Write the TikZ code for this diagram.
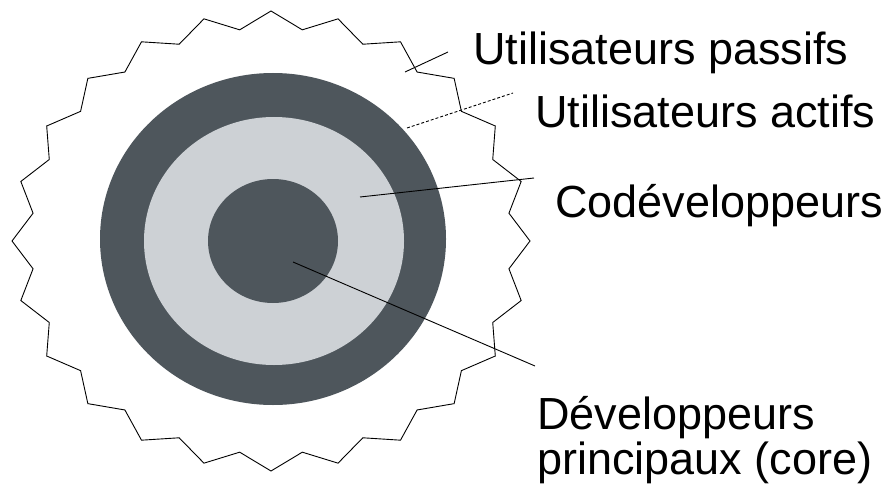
\documentclass[tikz,border=0pt]{standalone}
\usepackage{fontspec}
\setmainfont{Liberation Sans}
\definecolor{ringdark}{RGB}{78,86,92}
\definecolor{ringlight}{RGB}{205,209,213}
\tikzset{
  starline/.style={draw=black, line width=0.9pt, line join=miter, fill=white},
  leader/.style={draw=black, line width=0.9pt},
  leaderdash/.style={draw=black, line width=0.9pt, dash pattern=on 3pt off 2pt},
  lbl/.style={anchor=base west, inner sep=0pt, font=\fontsize{45}{50}\selectfont, text=black}
}
\begin{document}
\begin{tikzpicture}[x=1pt, y=-1pt]
\clip (0,0) rectangle (888,484);
\fill[white] (0,0) rectangle (888,484);
% jagged outer star
\begin{scope}[shift={(271,241)}]
\draw[starline] (0:259 and 230)
  \foreach \k [evaluate=\k as \rx using {mod(\k,2)==1 ? 240 : 259},
               evaluate=\k as \ry using {mod(\k,2)==1 ? 213 : 230}] in {1,...,47}
  { -- ({\k*7.5}:{\rx} and {\ry}) } -- cycle;
\end{scope}
% rings
\fill[ringdark] (273,239) ellipse [x radius=173, y radius=166];
\fill[ringlight] (274,241) ellipse [x radius=130, y radius=124];
\fill[ringdark] (273,241) ellipse [x radius=65, y radius=62];
% labels
\node[lbl] (passifs) at (473,65) {Utilisateurs passifs};
\node[lbl] (actifs) at (535,128) {Utilisateurs actifs};
\node[lbl] (codev) at (555,217) {Codéveloppeurs};
\node[lbl] (core1) at (537,429) {Développeurs};
\node[lbl] (core2) at (537,474) {principaux (core)};
% leader end points
\coordinate (pA) at (405,72);
\coordinate (pB) at (448,52);
\coordinate (aA) at (407,128);
\coordinate (aB) at (513,93);
\coordinate (cA) at (360,197);
\coordinate (cB) at (534,178);
\coordinate (dA) at (293,262);
\coordinate (dB) at (535,366);
\draw[leader] (pA) -- (pB);
\draw[leaderdash] (aA) -- (aB);
\draw[leader] (cA) -- (cB);
\draw[leader] (dA) -- (dB);
\end{tikzpicture}
\end{document}
